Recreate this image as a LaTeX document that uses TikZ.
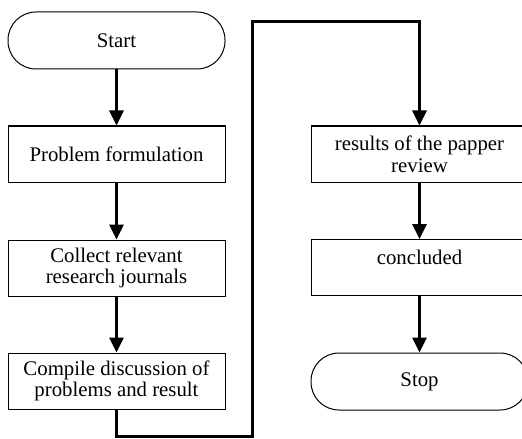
\documentclass[tikz,border=0pt]{standalone}
\usepackage{fontspec}
\setmainfont{Liberation Serif}
\usetikzlibrary{arrows.meta}
\tikzset{
  stepbox/.style={draw=black, line width=0.5pt, minimum width=108.5pt, minimum height=28pt, inner sep=1pt, align=center, font=\fontsize{10.4}{10.8}\selectfont},
  topbox/.style={stepbox, text depth=10.7pt},
  term/.style={stepbox, minimum height=28.5pt, rounded corners=14pt},
  flow/.style={draw=black, line width=1.5pt, -{Triangle[width=7pt,length=7.5pt]}},
}
\begin{document}
\begin{tikzpicture}[x=0.5pt, y=-0.5pt]
  \useasboundingbox (0,0) rectangle (522,438);
  % left column
  \node[term] (start) at (116.5,40.5) {Start};
  \node[stepbox] (problem) at (116.5,154) {Problem formulation};
  \node[stepbox] (collect) at (116.5,268) {Collect relevant\\research journals};
  \node[stepbox] (compile) at (116.5,381) {Compile discussion of\\problems and result};
  % right column
  \node[stepbox] (results) at (419.5,154) {results of the papper\\review};
  \node[topbox] (concluded) at (419.5,267.5) {concluded};
  \node[term] (stop) at (419.5,381.5) {Stop};
  % turning points of the long link
  \coordinate (turnA) at (252,436);
  \coordinate (turnB) at (252,22);

  \draw[flow] (start) -- (problem);
  \draw[flow] (problem) -- (collect);
  \draw[flow] (collect) -- (compile);
  \draw[flow] (compile.south) |- (turnA) -- (turnB) -| (results.north);
  \draw[flow] (results) -- (concluded);
  \draw[flow] (concluded) -- (stop);
\end{tikzpicture}
\end{document}
